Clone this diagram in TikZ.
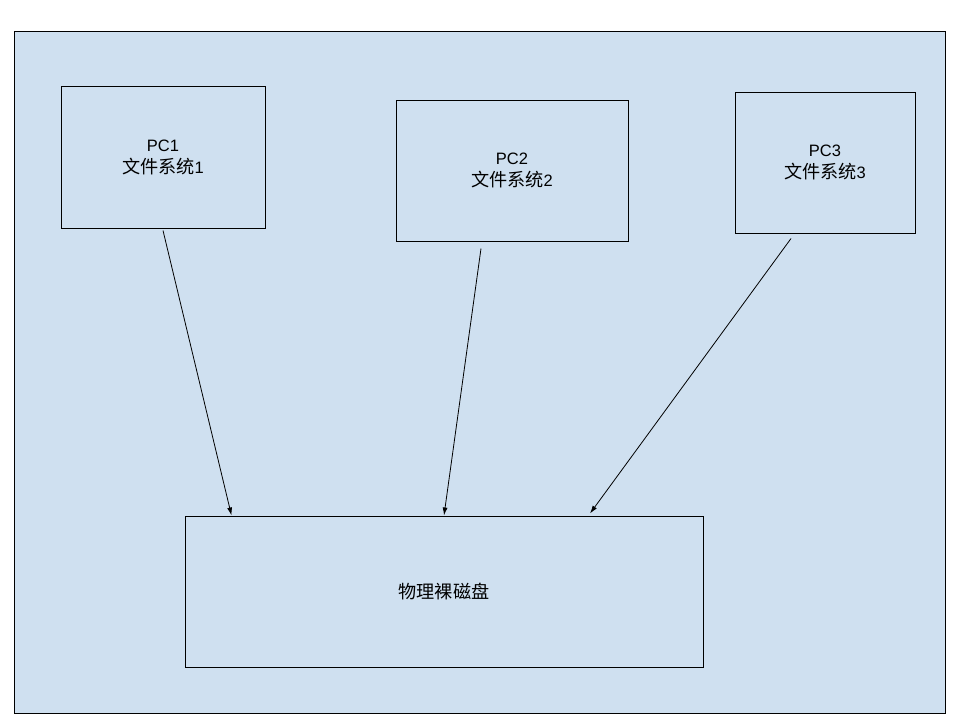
\documentclass[tikz,border=0pt]{standalone}
\usepackage{fontspec}
\setmainfont{Liberation Sans}
\newfontfamily\cjk[Scale=1.1]{Noto Sans CJK SC}
\usetikzlibrary{arrows.meta}
\definecolor{bgblue}{RGB}{207,224,240}
\begin{document}
\begin{tikzpicture}[x=1pt,y=-1pt,
  box/.style={draw=black,line width=1pt,inner sep=0pt,align=center,font=\fontsize{16.5}{22}\selectfont},
  arr/.style={draw=black,line width=0.8pt,-{Latex[length=8pt,width=5pt]}}]
\useasboundingbox (0,0) rectangle (960,720);
\fill[white] (0,0) rectangle (960,720);
\draw[fill=bgblue,line width=1pt] (14,31) rectangle (945,713);
\node[box,minimum width=204pt,minimum height=142pt] (pc1) at (163,157) {PC1\\{\cjk 文件系统}1};
\node[box,minimum width=232pt,minimum height=141pt] (pc2) at (512,170.5) {PC2\\{\cjk 文件系统}2};
\node[box,minimum width=180pt,minimum height=141pt] (pc3) at (825,162.5) {PC3\\{\cjk 文件系统}3};
\node[box,minimum width=518pt,minimum height=151pt] (disk) at (444,591.5) {{\cjk 物理裸磁盘}};
\draw[arr] ([yshift=-2pt]pc1.south) -- ([xshift=47pt]disk.north west);
\draw[arr] ([xshift=-31pt,yshift=-7pt]pc2.south) -- (disk.north);
\draw[arr] ([xshift=-34pt,yshift=-5pt]pc3.south) -- ([xshift=146pt,yshift=2pt]disk.north);
\end{tikzpicture}
\end{document}
